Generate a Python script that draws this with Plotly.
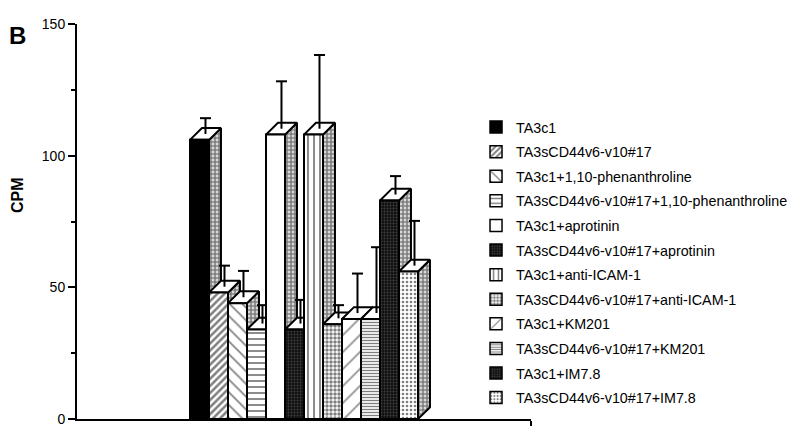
import plotly.graph_objects as go

# ---- data ----
labels = [
    "TA3c1",
    "TA3sCD44v6-v10#17",
    "TA3c1+1,10-phenanthroline",
    "TA3sCD44v6-v10#17+1,10-phenanthroline",
    "TA3c1+aprotinin",
    "TA3sCD44v6-v10#17+aprotinin",
    "TA3c1+anti-ICAM-1",
    "TA3sCD44v6-v10#17+anti-ICAM-1",
    "TA3c1+KM201",
    "TA3sCD44v6-v10#17+KM201",
    "TA3c1+IM7.8",
    "TA3sCD44v6-v10#17+IM7.8",
]
cpm = [106, 48, 44, 34, 108, 34, 108, 36, 38, 38, 83, 56]
err = [6, 8, 10, 7, 18, 9, 28, 5, 15, 25, 7, 17]
y_tickvals = [0, 50, 100, 150]
y_ticktext = ["0", "50", "100", "150"]

# ---- styles ----
FONT = "Liberation Sans, Arial, Helvetica, sans-serif"
DX = 0.63   # 3D depth offset (bar widths)
DY = 4.47   # 3D depth offset (CPM units)
CAPW = 0.58
LW = 2

styles = [
    dict(color="black", pattern=None),
    dict(color="white", pattern=dict(shape="/", fgcolor="black", bgcolor="white", size=5, solidity=0.5)),
    dict(color="white", pattern=dict(shape="\\", fgcolor="black", bgcolor="white", size=9, solidity=0.18)),
    dict(color="white", pattern=dict(shape="-", fgcolor="black", bgcolor="white", size=6, solidity=0.3)),
    dict(color="white", pattern=None),
    dict(color="#1a1a1a", pattern=dict(shape=".", fgcolor="#707070", bgcolor="#101010", size=3, solidity=0.3)),
    dict(color="white", pattern=dict(shape="|", fgcolor="black", bgcolor="white", size=6, solidity=0.3)),
    dict(color="white", pattern=dict(shape=".", fgcolor="black", bgcolor="white", size=4, solidity=0.6)),
    dict(color="white", pattern=dict(shape="/", fgcolor="black", bgcolor="white", size=12, solidity=0.13)),
    dict(color="white", pattern=dict(shape="-", fgcolor="black", bgcolor="white", size=3, solidity=0.45)),
    dict(color="#1a1a1a", pattern=dict(shape=".", fgcolor="#707070", bgcolor="#101010", size=3, solidity=0.3)),
    dict(color="white", pattern=dict(shape=".", fgcolor="black", bgcolor="white", size=4, solidity=0.35)),
]
side_pattern = dict(shape=".", fgcolor="black", bgcolor="white", size=4, solidity=0.75)

fig = go.Figure()

# legend entries (patterned swatches)
for lab, st in zip(labels, styles):
    marker = dict(color=st["color"], line=dict(color="black", width=1.5))
    if st["pattern"]:
        marker["pattern"] = st["pattern"]
    fig.add_trace(go.Bar(x=[None], y=[None], name=lab, marker=marker,
                         legendgroup=lab, showlegend=True, hoverinfo="skip"))

# 3D bars, drawn left to right so later bars hide earlier side faces
for i, (v, e, st) in enumerate(zip(cpm, err, styles)):
    x0, x1 = i, i + 1
    # side face
    fig.add_trace(go.Scatter(
        x=[x1, x1 + DX, x1 + DX, x1, x1], y=[0, DY, v + DY, v, 0],
        mode="lines", fill="toself", fillcolor="white", fillpattern=side_pattern,
        line=dict(color="black", width=LW), showlegend=False, hoverinfo="skip"))
    # top face
    fig.add_trace(go.Scatter(
        x=[x0, x1, x1 + DX, x0 + DX, x0], y=[v, v, v + DY, v + DY, v],
        mode="lines", fill="toself", fillcolor="white",
        line=dict(color="black", width=LW), showlegend=False, hoverinfo="skip"))
    # front face
    kw = dict(fillcolor=st["color"])
    if st["pattern"]:
        kw["fillpattern"] = st["pattern"]
    fig.add_trace(go.Scatter(
        x=[x0, x1, x1, x0, x0], y=[0, 0, v, v, 0],
        mode="lines", fill="toself", line=dict(color="black", width=LW),
        showlegend=False, hoverinfo="skip", **kw))
    # error bar (from the middle of the top face)
    xc = x0 + 0.5 + DX / 2
    yb = v + DY / 2
    yt = v + e + DY / 2
    fig.add_trace(go.Scatter(
        x=[xc, xc, None, xc - CAPW / 2, xc + CAPW / 2],
        y=[yb, yt, None, yt, yt],
        mode="lines", line=dict(color="black", width=LW),
        showlegend=False, hoverinfo="skip"))

XMIN, XMAX = -5.947, 17.947

fig.update_layout(
    width=800, height=427,
    margin=dict(l=69, r=277, t=16, b=8),
    paper_bgcolor="white", plot_bgcolor="white",
    font=dict(family=FONT, color="black", size=14),
    showlegend=True,
    legend=dict(x=0.8789, y=0.779, xanchor="left", yanchor="top",
                font=dict(family=FONT, size=14.3, color="black"),
                tracegroupgap=3.0, bgcolor="rgba(0,0,0,0)"),
    xaxis=dict(type="linear", range=[XMIN, XMAX], showline=True, linecolor="black",
               linewidth=LW, showgrid=False, zeroline=False,
               tickvals=[XMAX - 0.01], ticks="outside", ticklen=5, tickwidth=LW,
               tickcolor="black", showticklabels=False, fixedrange=True),
    yaxis=dict(range=[0, 150], showline=True, linecolor="black", linewidth=LW,
               showgrid=False, zeroline=False, tickvals=y_tickvals, ticktext=y_ticktext,
               ticks="outside", ticklen=7, tickwidth=LW, tickcolor="black",
               tickfont=dict(family=FONT, size=14),
               minor=dict(tickvals=[25, 75, 125], ticks="outside", ticklen=4,
                          tickwidth=1.5, tickcolor="black"),
               fixedrange=True),
    annotations=[
        dict(text="<b>B</b>", xref="paper", yref="paper", x=-0.154, y=1.01,
             xanchor="left", yanchor="top", showarrow=False,
             font=dict(family=FONT, size=24, color="black")),
        dict(text="<b>CPM</b>", xref="paper", yref="paper", x=-0.131, y=0.566,
             xanchor="center", yanchor="middle", textangle=-90, showarrow=False,
             font=dict(family=FONT, size=16, color="black")),
    ],
)

fig.write_html("out.html")
